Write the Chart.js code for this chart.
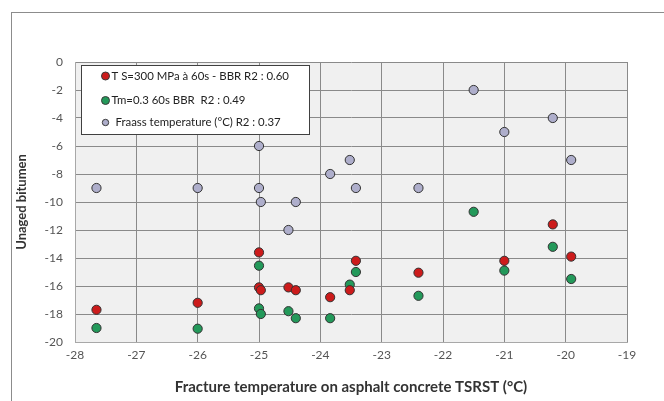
<!DOCTYPE html>
<html>
<head>
<meta charset="utf-8">
<script src="https://cdn.jsdelivr.net/npm/chart.js@4"></script>
<style>
  html, body { margin: 0; padding: 0; background: #fff; overflow: hidden; }
  #wrap { position: relative; width: 664px; height: 401px; }
  #frame { position: absolute; left: 11px; top: 12px; width: 700px; height: 420px; border: 1px solid #8c8c8c; }
  canvas { position: absolute; left: 0; top: 0; }
</style>
</head>
<body>
<div id="wrap">
  <div id="frame"></div>
  <canvas id="chart" width="664" height="401"></canvas>
</div>
<script>
// fracture temperature on TSRST (x) for each bitumen
const tsX = [-27.65, -26.0, -25.0, -25.0, -24.97, -24.52, -24.4, -23.84, -23.52, -23.42, -22.4, -21.0, -20.21, -19.91];
const tsY = [-17.7, -17.2, -13.6, -16.1, -16.3, -16.1, -16.3, -16.8, -16.3, -14.2, -15.05, -14.2, -11.6, -13.9];

const tmX = [-27.65, -26.0, -25.0, -25.0, -24.97, -24.52, -24.4, -23.84, -23.52, -23.42, -22.4, -21.5, -21.0, -20.21, -19.91];
const tmY = [-19.0, -19.05, -14.55, -17.6, -18.0, -17.8, -18.3, -18.3, -15.9, -15.0, -16.7, -10.7, -14.9, -13.2, -15.5];

const frX = [-27.65, -26.0, -25.0, -25.0, -24.97, -24.52, -24.4, -23.84, -23.52, -23.42, -22.4, -21.5, -21.0, -20.21, -19.91];
const frY = [-9, -9, -6, -9, -10, -12, -10, -8, -7, -9, -9, -2, -5, -4, -7];

const seriesNames = [
  "T S=300 MPa à 60s - BBR R2 : 0.60",
  "Tm=0.3 60s BBR  R2 : 0.49",
  "Fraass temperature (°C) R2 : 0.37"
];
const seriesColors = ["#cc1b1b", "#23995a", "#aeaecb"];

const xTicks = [-28, -27, -26, -25, -24, -23, -22, -21, -20, -19];
const yTicks = [0, -2, -4, -6, -8, -10, -12, -14, -16, -18, -20];

function pts(xs, ys) {
  return xs.map((x, i) => ({ x: x, y: ys[i] }));
}

const font = "Lato, 'Liberation Sans', sans-serif";

// grey plot background
const plotBg = {
  id: "plotBg",
  beforeDraw(chart) {
    const a = chart.chartArea, ctx = chart.ctx;
    ctx.save();
    ctx.fillStyle = "#f0f0f0";
    ctx.fillRect(a.left, a.top, a.right - a.left, a.bottom - a.top);
    ctx.restore();
  }
};

// boxed legend in the top-left corner of the plot
const boxLegend = {
  id: "boxLegend",
  afterDraw(chart) {
    const a = chart.chartArea, ctx = chart.ctx;
    const x0 = a.left + 6.5, y0 = a.top + 3.5, w = 228, h = 69;
    ctx.save();
    ctx.fillStyle = "#fff";
    ctx.fillRect(x0, y0, w, h);
    ctx.strokeStyle = "#404040";
    ctx.lineWidth = 1;
    ctx.strokeRect(x0, y0, w, h);
    ctx.font = "11.4px " + font;
    ctx.textBaseline = "middle";
    const rows = [10.5, 35, 57];
    seriesNames.forEach((name, i) => {
      const cy = y0 + rows[i];
      const r = i === 2 ? 3.2 : 4;
      ctx.beginPath();
      ctx.arc(x0 + 24, cy, r, 0, Math.PI * 2);
      ctx.fillStyle = seriesColors[i];
      ctx.fill();
      ctx.strokeStyle = "#3a3a3a";
      ctx.stroke();
      ctx.fillStyle = "#222";
      ctx.fillText(name, x0 + (i === 2 ? 34 : 30), cy);
    });
    ctx.restore();
  }
};

new Chart(document.getElementById("chart"), {
  type: "scatter",
  data: {
    datasets: [
      { label: seriesNames[0], data: pts(tsX, tsY), backgroundColor: seriesColors[0] },
      { label: seriesNames[1], data: pts(tmX, tmY), backgroundColor: seriesColors[1] },
      { label: seriesNames[2], data: pts(frX, frY), backgroundColor: seriesColors[2] }
    ]
  },
  options: {
    responsive: false,
    animation: false,
    layout: { padding: { left: 0, top: 62, right: 37, bottom: 0 } },
    elements: {
      point: { radius: 4.6, borderWidth: 1, borderColor: "#333", pointStyle: "circle" }
    },
    plugins: {
      legend: { display: false },
      tooltip: { enabled: false }
    },
    scales: {
      x: {
        type: "linear",
        min: -28, max: -19,
        afterBuildTicks(scale) { scale.ticks = xTicks.map(v => ({ value: v })); },
        afterFit(scale) { scale.height = 59; },
        grid: { color: "#8a8a8a", drawTicks: false },
        border: { color: "#a8a8a8" },
        ticks: { padding: 6, color: "#555", font: { family: font, size: 12 } },
        title: {
          display: true,
          text: "Fracture temperature on asphalt concrete TSRST (°C)",
          color: "#333",
          font: { family: font, size: 15, weight: "bold" },
          padding: { top: 0, bottom: 5 }
        }
      },
      y: {
        type: "linear",
        min: -20, max: 0,
        afterBuildTicks(scale) { scale.ticks = yTicks.map(v => ({ value: v })); },
        afterFit(scale) { scale.width = 75; },
        grid: { color: "#8a8a8a", drawTicks: false },
        border: { color: "#a8a8a8" },
        ticks: { padding: 12, color: "#555", font: { family: font, size: 12 } },
        title: {
          display: true,
          text: "Unaged bitumen",
          color: "#333",
          font: { family: font, size: 13, weight: "bold" },
          padding: { top: 14, bottom: 0 }
        }
      }
    }
  },
  plugins: [plotBg, boxLegend]
});
</script>
</body>
</html>
